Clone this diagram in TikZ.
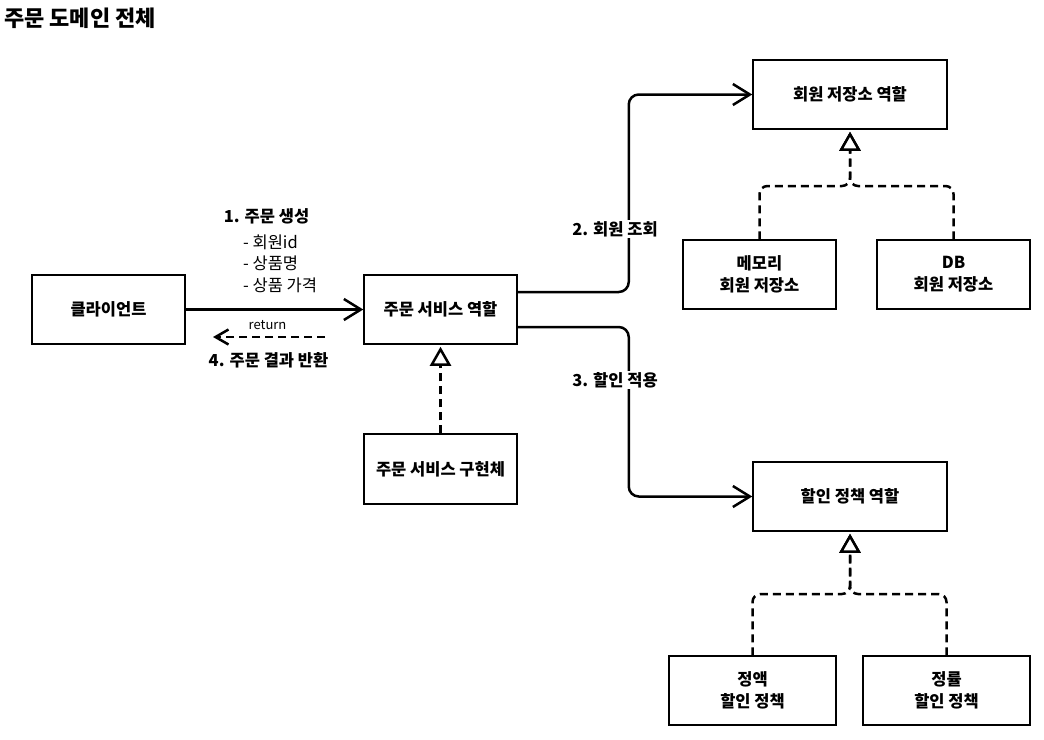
\documentclass[tikz,border=0pt]{standalone}
\usepackage{fontspec}
\setmainfont{Noto Sans CJK KR}
\usetikzlibrary{arrows.meta}

\begin{document}
\begin{tikzpicture}[x=1pt, y=-1pt,
        box/.style={draw, line width=1.5pt, minimum width=153pt, minimum height=69pt, inner sep=0pt, align=center, font=\bfseries\fontsize{16.5}{22}\selectfont},
        lbl/.style={font=\bfseries\fontsize{16.5}{22}\selectfont, inner sep=1pt},
        arg/.style={anchor=west, font=\fontsize{16.5}{22}\selectfont, inner sep=0pt},
        call/.style={line width=2.5pt, rounded corners=10pt, -{Straight Barb[length=17pt,width=21pt]}},
        realize/.style={line width=2.5pt, dash pattern=on 8pt off 5pt, rounded corners=8pt, -{Triangle[open,length=19pt,width=21pt,fill=white]}, shorten >=2pt}]
                \fill[white] (0,0) rectangle (1044,739);
                \useasboundingbox (0,0) rectangle (1044,739);
                \node[anchor=west, inner sep=0pt, font=\bfseries\fontsize{22}{26}\selectfont] (title) at (4,18) {주문 도메인 전체};
                \node[box] (client) at (108.5,309.5) {클라이언트};
                \node[box] (service) at (440.5,309.5) {주문 서비스 역할};
                \node[box, minimum height=70pt] (impl) at (440.5,469) {주문 서비스 구현체};
                \node[box, minimum width=194pt] (memrole) at (850,94.5) {회원 저장소 역할};
                \node[box] (mem) at (759.5,274.5) {메모리\\회원 저장소};
                \node[box] (db) at (953.5,274.5) {DB\\회원 저장소};
                \node[box, minimum width=194pt] (discrole) at (850,496.5) {할인 정책 역할};
                \node[box, minimum width=167pt] (fixed) at (752.5,690.5) {정액\\할인 정책};
                \node[box, minimum width=167pt] (rate) at (946.5,690.5) {정률\\할인 정책};
                \draw[call] (client) -- (service);
                \draw[call] ([yshift=17.5pt]service.east) -- ++(111,0) |- (memrole.west);
                \draw[call] ([yshift=-17.5pt]service.east) -- ++(111,0) |- (discrole.west);
                \node[lbl, fill=white] (memcall) at (615,229) {2. 회원 조회};
                \node[lbl, fill=white] (disccall) at (615,380) {3. 할인 적용};
                \draw[realize] (impl) -- (service);
                \coordinate (memjoin) at (850,186);
                \draw[realize] (mem.north) |- (memjoin) -- (memrole.south);
                \draw[realize] (db.north) |- (memjoin) -- (memrole.south);
                \coordinate (discjoin) at (850,594);
                \draw[realize] (fixed.north) |- (discjoin) -- (discrole.south);
                \draw[realize] (rate.north) |- (discjoin) -- (discrole.south);
                \node[lbl] (create) at (266.5,216) {1. 주문 생성};
                \node[arg] (arg1) at (243,242) {- 회원id};
                \node[arg] (arg2) at (243,263.5) {- 상품명};
                \node[arg] (arg3) at (243,285) {- 상품 가격};
                \node[inner sep=0pt, font=\fontsize{13}{15}\selectfont] (ret) at (267.5,325) {return};
                \coordinate (retfrom) at (325,337);
                \coordinate (retto) at (213,337);
                \draw[line width=2.5pt, dash pattern=on 8pt off 5pt, -{Straight Barb[length=13pt,width=15pt]}] (retfrom) -- (retto);
                \node[lbl] (result) at (268.5,360) {4. 주문 결과 반환};
            \end{tikzpicture}
\end{document}
